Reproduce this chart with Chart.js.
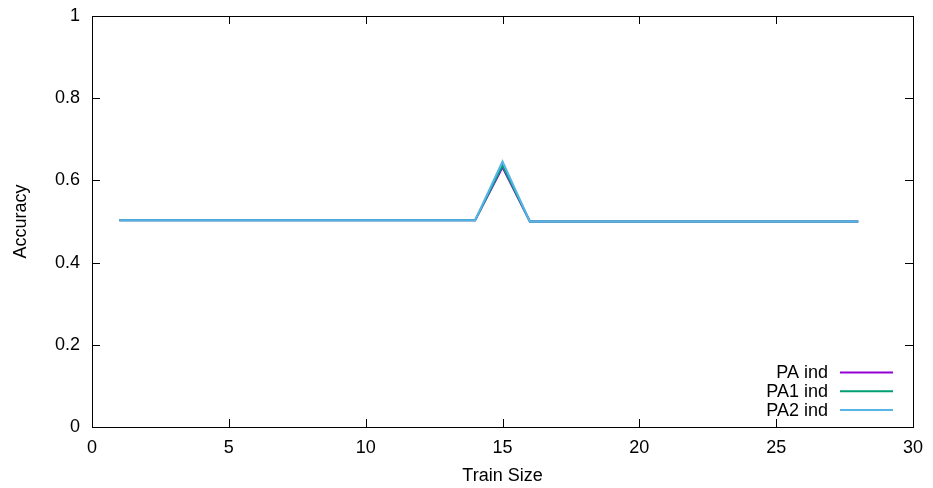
<!DOCTYPE html>
<html>
<head>
<meta charset="utf-8">
<script src="https://cdn.jsdelivr.net/npm/chart.js@4.4.1/dist/chart.umd.min.js"></script>
<style>
  html, body { margin: 0; padding: 0; background: #fff; }
  #wrap { width: 933px; height: 488px; }
</style>
</head>
<body>
<div id="wrap"><canvas id="accChart"></canvas></div>
<script>
// ===== DATA =====
const trainSizes = [1, 2, 3, 4, 5, 6, 7, 8, 9, 10, 11, 12, 13, 14, 15, 16, 17, 18, 19, 20, 21, 22, 23, 24, 25, 26, 27, 28];
const paInd  = [0.503, 0.503, 0.503, 0.503, 0.503, 0.503, 0.503, 0.503, 0.503, 0.503, 0.503, 0.503, 0.503, 0.503, 0.632, 0.5, 0.5, 0.5, 0.5, 0.5, 0.5, 0.5, 0.5, 0.5, 0.5, 0.5, 0.5, 0.5];
const pa1Ind = [0.503, 0.503, 0.503, 0.503, 0.503, 0.503, 0.503, 0.503, 0.503, 0.503, 0.503, 0.503, 0.503, 0.503, 0.636, 0.5, 0.5, 0.5, 0.5, 0.5, 0.5, 0.5, 0.5, 0.5, 0.5, 0.5, 0.5, 0.5];
const pa2Ind = [0.503, 0.503, 0.503, 0.503, 0.503, 0.503, 0.503, 0.503, 0.503, 0.503, 0.503, 0.503, 0.503, 0.503, 0.646, 0.5, 0.5, 0.5, 0.5, 0.5, 0.5, 0.5, 0.5, 0.5, 0.5, 0.5, 0.5, 0.5];
const seriesLabels = ["PA ind", "PA1 ind", "PA2 ind"];
const xTicks = [0, 5, 10, 15, 20, 25, 30];
const yTicks = [0, 0.2, 0.4, 0.6, 0.8, 1];

const FONT = "'Liberation Sans', Arial, sans-serif";
const colors = ["#9400d3", "#009e73", "#56b4e9"];

function toPoints(values) {
    return trainSizes.map((x, i) => ({ x: x, y: values[i] }));
}

// ===== FRAME + INWARD TICKS (gnuplot look) =====
const framePlugin = {
    id: "frame",
    afterDatasetsDraw(chart) {
        const { ctx, chartArea: a, scales } = chart;
        ctx.save();
        ctx.strokeStyle = "#000";
        ctx.lineWidth = 1;
        const len = 8;
        ctx.beginPath();
        xTicks.forEach(v => {
            const px = Math.round(scales.x.getPixelForValue(v)) + 0.5;
            ctx.moveTo(px, a.bottom); ctx.lineTo(px, a.bottom - len);
            ctx.moveTo(px, a.top); ctx.lineTo(px, a.top + len);
        });
        yTicks.forEach(v => {
            const py = Math.round(scales.y.getPixelForValue(v)) + 0.5;
            ctx.moveTo(a.left, py); ctx.lineTo(a.left + len, py);
            ctx.moveTo(a.right, py); ctx.lineTo(a.right - len, py);
        });
        ctx.stroke();
        ctx.strokeRect(Math.round(a.left) + 0.5, Math.round(a.top) + 0.5,
                       Math.round(a.right - a.left), Math.round(a.bottom - a.top));
        ctx.restore();
    }
};

// ===== LEGEND (text right-aligned, sample line after it) =====
const keyPlugin = {
    id: "key",
    afterDraw(chart) {
        const { ctx, chartArea: a } = chart;
        ctx.save();
        ctx.font = "18px " + FONT;
        ctx.textAlign = "right";
        ctx.textBaseline = "middle";
        const lineX1 = a.right - 73, lineX2 = a.right - 20;
        const rowH = 18.7;
        const startY = a.bottom - 54.5;
        seriesLabels.forEach((label, i) => {
            const y = startY + i * rowH;
            ctx.fillStyle = "#000";
            ctx.fillText(label, lineX1 - 12, y + 1);
            ctx.strokeStyle = colors[i];
            ctx.lineWidth = 2;
            ctx.beginPath();
            ctx.moveTo(lineX1, y); ctx.lineTo(lineX2, y);
            ctx.stroke();
        });
        ctx.restore();
    }
};

new Chart(document.getElementById("accChart"), {
    type: "line",
    data: {
        datasets: [paInd, pa1Ind, pa2Ind].map((vals, i) => ({
            label: seriesLabels[i],
            data: toPoints(vals),
            borderColor: colors[i],
            borderWidth: 2,
            pointRadius: 0,
            tension: 0,
            fill: false,
            order: 2 - i   // later series drawn on top
        }))
    },
    options: {
        responsive: true,
        maintainAspectRatio: false,
        animation: false,
        layout: { padding: { left: 0, top: 16, right: 20, bottom: 0 } },
        plugins: { legend: { display: false }, tooltip: { enabled: false } },
        scales: {
            x: {
                type: "linear",
                min: 0, max: 30,
                afterBuildTicks: s => { s.ticks = xTicks.map(v => ({ value: v })); },
                afterFit: s => { s.height = 61; s.paddingLeft = 0; s.paddingRight = 0; },
                grid: { display: false, drawTicks: false },
                border: { display: false },
                ticks: { color: "#000", font: { family: FONT, size: 18 }, padding: 10, maxRotation: 0 },
                title: { display: true, text: "Train Size", color: "#000", font: { family: FONT, size: 18 }, padding: { top: 4, bottom: 1 } }
            },
            y: {
                min: 0, max: 1,
                afterBuildTicks: s => { s.ticks = yTicks.map(v => ({ value: v })); },
                afterFit: s => { s.width = 92; s.paddingTop = 0; s.paddingBottom = 0; },
                grid: { display: false, drawTicks: false },
                border: { display: false },
                ticks: { color: "#000", font: { family: FONT, size: 18 }, padding: 12, callback: v => String(v) },
                title: { display: true, text: "Accuracy", color: "#000", font: { family: FONT, size: 18 }, padding: { top: 10, bottom: 4 } }
            }
        }
    },
    plugins: [framePlugin, keyPlugin]
});
</script>
</body>
</html>
